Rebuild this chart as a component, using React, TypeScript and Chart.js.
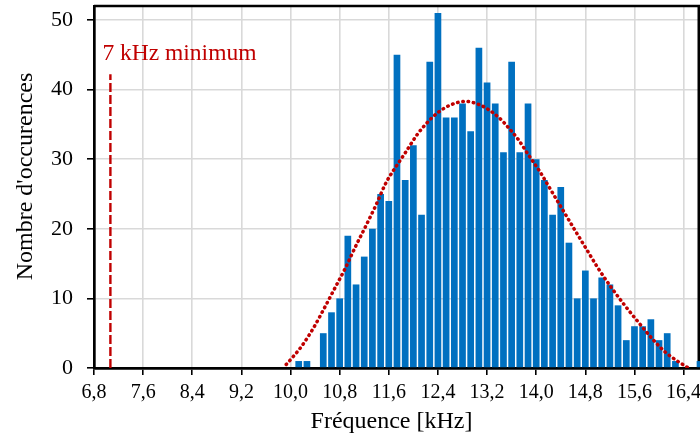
import React, { useEffect, useRef } from "react";
import { Chart, registerables } from "chart.js";

Chart.register(...registerables);

// Histogram bins (bin centres in kHz) and occurrence counts
const frequencies = [
  10.133, 10.267, 10.4, 10.533, 10.667, 10.8, 10.933, 11.067, 11.2, 11.333,
  11.467, 11.6, 11.733, 11.867, 12.0, 12.133, 12.267, 12.4, 12.533, 12.667,
  12.8, 12.933, 13.067, 13.2, 13.333, 13.467, 13.6, 13.733, 13.867, 14.0,
  14.133, 14.267, 14.4, 14.533, 14.667, 14.8, 14.933, 15.067, 15.2, 15.333,
  15.467, 15.6, 15.733, 15.867, 16.0, 16.133, 16.267, 16.4, 16.533, 16.667,
];
const counts = [
  1, 1, 0, 5, 8, 10, 19, 12, 16, 20,
  25, 24, 45, 27, 32, 22, 44, 51, 36, 36,
  38, 34, 46, 41, 38, 31, 44, 31, 38, 30,
  27, 22, 26, 18, 10, 14, 10, 13, 12, 9,
  4, 6, 6, 7, 4, 5, 1, 0, 0, 1,
];

// Fitted distribution curve
const fitFrequencies = [
  9.93, 10.01, 10.17, 10.37, 10.55, 10.72, 10.89, 11.05, 11.22, 11.38,
  11.56, 11.73, 11.86, 12.06, 12.22, 12.4, 12.61, 12.85, 13.08, 13.19,
  13.39, 13.56, 13.71, 13.86, 14.06, 14.25, 14.44, 14.63, 14.82, 15.01,
  15.22, 15.45, 15.68, 15.91, 16.1, 16.29, 16.4, 16.48,
];
const fitValues = [
  0.5, 1.3, 3.0, 5.7, 8.6, 11.45, 14.3, 17.3, 20.3, 23.2,
  26.7, 29.1, 30.8, 33.5, 35.2, 36.7, 37.8, 38.3, 37.8, 37.3,
  36.0, 34.4, 32.8, 30.8, 28.2, 25.4, 22.6, 19.8, 17.05, 14.3,
  11.6, 8.9, 6.4, 4.0, 2.3, 1.05, 0.43, 0,
];

// Minimum-frequency marker
const minFrequency = 7.067;
const minLineTop = 42.2;
const minLabel = "7 kHz minimum";

// Axes
const xTickValues = [6.8, 7.6, 8.4, 9.2, 10.0, 10.8, 11.6, 12.4, 13.2, 14.0, 14.8, 15.6, 16.4];
const xMin = 6.8;
const xMax = 16.667;
const yMax = 52;
const yStep = 10;
const xTitle = "Fréquence [kHz]";
const yTitle = "Nombre d'occurences";

const FONT = "'Liberation Serif', 'Times New Roman', serif";
const RED = "#c00000";
const BLUE = "#0070c0";

const framePlugin = {
  id: "frameAndLabel",
  beforeDatasetsDraw(chart: any) {
    const { ctx, chartArea } = chart;
    ctx.save();
    ctx.strokeStyle = "#000";
    ctx.lineWidth = 2.5;
    ctx.beginPath();
    ctx.moveTo(chartArea.left, chartArea.top);
    ctx.lineTo(chartArea.right - 1.25, chartArea.top);
    ctx.lineTo(chartArea.right - 1.25, chartArea.bottom);
    ctx.stroke();
    ctx.restore();
  },
  afterDatasetsDraw(chart: any) {
    const { ctx, scales } = chart;
    ctx.save();
    // label of the minimum line
    const x = scales.x.getPixelForValue(minFrequency) - 8;
    const y = scales.y.getPixelForValue(minLineTop) - 14;
    ctx.fillStyle = RED;
    ctx.font = `23.5px ${FONT}`;
    ctx.textAlign = "left";
    ctx.textBaseline = "alphabetic";
    ctx.fillText(minLabel, x, y);
    ctx.restore();
  },
  afterDraw(chart: any) {
    const { ctx, chartArea } = chart;
    ctx.save();
    ctx.fillStyle = "#000";
    ctx.font = `24px ${FONT}`;
    ctx.textAlign = "center";
    ctx.textBaseline = "alphabetic";
    // x axis title
    ctx.fillText(xTitle, (chartArea.left + chartArea.right) / 2 - 5.5, chart.height - 10);
    // y axis title
    ctx.translate(31.5, (chartArea.top + chartArea.bottom) / 2 - 10.5);
    ctx.rotate(-Math.PI / 2);
    ctx.fillText(yTitle, 0, 0);
    ctx.restore();
  },
};

export default function App() {
  const canvasRef = useRef<HTMLCanvasElement | null>(null);

  useEffect(() => {
    const canvas = canvasRef.current;
    if (!canvas) return;
    const chart = new Chart(canvas, {
      type: "bar",
      data: {
        datasets: [
          {
            type: "line",
            label: "fit",
            data: fitFrequencies.map((x, i) => ({ x, y: fitValues[i] })),
            borderColor: RED,
            borderWidth: 3.5,
            borderDash: [0.5, 4.8],
            borderCapStyle: "round",
            pointRadius: 0,
            cubicInterpolationMode: "monotone",
            fill: false,
            order: 0,
          } as any,
          {
            type: "line",
            label: "min",
            data: [
              { x: minFrequency, y: 0 },
              { x: minFrequency, y: minLineTop },
            ],
            borderColor: RED,
            borderWidth: 2.4,
            borderDash: [9, 3],
            pointRadius: 0,
            fill: false,
            order: 0,
          } as any,
          {
            type: "bar",
            label: "counts",
            data: frequencies.map((x, i) => ({ x, y: counts[i] })),
            backgroundColor: BLUE,
            borderWidth: 0,
            barPercentage: 0.82,
            categoryPercentage: 1,
            order: 1,
          } as any,
        ],
      },
      options: {
        responsive: false,
        animation: false,
        devicePixelRatio: 1,
        layout: { padding: { top: 6, right: 0, left: 0, bottom: 0 } },
        plugins: { legend: { display: false }, tooltip: { enabled: false } },
        scales: {
          x: {
            type: "linear",
            offset: false,
            min: xMin,
            max: xMax,
            afterBuildTicks: (axis: any) => {
              axis.ticks = xTickValues.map((v) => ({ value: v }));
            },
            afterFit: (s: any) => {
              s.height = 70;
              s.paddingLeft = 0;
              s.paddingRight = 0;
            },
            ticks: {
              autoSkip: false,
              maxRotation: 0,
              padding: 6,
              color: "#000",
              font: { family: FONT, size: 20 },
              callback: (v: any) => Number(v).toFixed(1).replace(".", ","),
            },
            grid: { offset: false, color: "#d9d9d9", lineWidth: 1.6, tickColor: "#000", tickLength: 7 },
            border: { color: "#000", width: 2.7 },
            title: { display: false },
          } as any,
          y: {
            type: "linear",
            min: 0,
            max: yMax,
            afterFit: (s: any) => {
              s.width = 94;
              s.paddingTop = 0;
              s.paddingBottom = 0;
            },
            ticks: {
              stepSize: yStep,
              includeBounds: false,
              padding: 14,
              color: "#000",
              font: { family: FONT, size: 22 },
            },
            grid: { color: "#d9d9d9", lineWidth: 1.6, tickColor: "#000", tickLength: 7 },
            border: { color: "#000", width: 2.7 },
            title: { display: false },
          } as any,
        },
      },
      plugins: [framePlugin],
    });
    return () => chart.destroy();
  }, []);

  return (
    <div style={{ position: "absolute", left: 0, top: 0, width: 700, height: 438, background: "#fff" }}>
      <canvas ref={canvasRef} width={700} height={438} style={{ display: "block" }} />
    </div>
  );
}
